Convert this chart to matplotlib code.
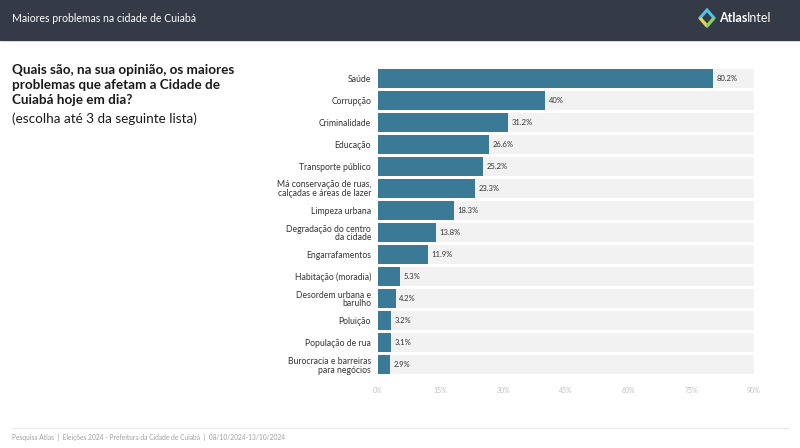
import matplotlib
matplotlib.use("Agg")
import matplotlib.pyplot as plt
from matplotlib.patches import Rectangle, Polygon
import numpy as np

plt.rcParams["font.family"] = ["Lato", "DejaVu Sans"]

# data
categories = ["Saúde", "Corrupção", "Criminalidade", "Educação", "Transporte público",
              "Má conservação de ruas,\ncalçadas e áreas de lazer", "Limpeza urbana",
              "Degradação do centro\nda cidade", "Engarrafamentos", "Habitação (moradia)",
              "Desordem urbana e\nbarulho", "Poluição", "População de rua",
              "Burocracia e barreiras\npara negócios"]
values = [80.2, 40, 31.2, 26.6, 25.2, 23.3, 18.3, 13.8, 11.9, 5.3, 4.2, 3.2, 3.1, 2.9]
value_labels = ["80.2%", "40%", "31.2%", "26.6%", "25.2%", "23.3%", "18.3%", "13.8%",
                "11.9%", "5.3%", "4.2%", "3.2%", "3.1%", "2.9%"]
xticks = [0, 15, 30, 45, 60, 75, 90]

bar_color = "#3b7a97"
strip_color = "#f2f2f2"
header_color = "#343a46"

fig = plt.figure(figsize=(8, 4.48), dpi=100)

# header band
fig.patches.append(Rectangle((0, 1 - 40 / 448), 1, 40 / 448, transform=fig.transFigure,
                             color=header_color, zorder=0))
fig.text(12 / 800, 1 - 18 / 448, "Maiores problemas na cidade de Cuiabá", color="white",
         fontsize=7.6, va="center", ha="left")
# little logo mark
cx, cy = 707 / 800, 1 - 18 / 448
dx, dy = 7 / 800, 8 / 448
fig.patches.append(Polygon([(cx, cy + dy), (cx + dx, cy), (cx, cy - dy), (cx - dx, cy)],
                           closed=True, transform=fig.transFigure, facecolor="none",
                           edgecolor="#4fc3e8", linewidth=2.2))
fig.patches.append(Polygon([(cx - dx, cy), (cx, cy - dy)], closed=False,
                           transform=fig.transFigure, fill=False,
                           edgecolor="#f2d33a", linewidth=2.2))
fig.patches.append(Polygon([(cx, cy - dy), (cx + dx, cy)], closed=False,
                           transform=fig.transFigure, fill=False,
                           edgecolor="#8fd14f", linewidth=2.2))
fig.text(719 / 800, cy, "Atlas", color="white", fontsize=9, fontweight="bold",
         va="center", ha="left")
fig.text(747 / 800, cy, "Intel", color="white", fontsize=9, va="center", ha="left")

# question
fig.text(12 / 800, 1 - 64 / 448, "Quais são, na sua opinião, os maiores\nproblemas que afetam a Cidade de\nCuiabá hoje em dia?",
         fontsize=9.7, fontweight="bold", color="#1a1a1a", va="top", ha="left",
         linespacing=1.3)
fig.text(12 / 800, 1 - 112 / 448, "(escolha até 3 da seguinte lista)", fontsize=9.7,
         color="#1a1a1a", va="top", ha="left")

ax = fig.add_axes([378 / 800, 1 - 376 / 448, 376 / 800, 309 / 448])
y = np.arange(len(categories))
ax.barh(y, [xticks[-1]] * len(categories), height=0.86, color=strip_color, zorder=1)
ax.barh(y, values, height=0.86, color=bar_color, zorder=2)
for yi, v, lab in zip(y, values, value_labels):
    ax.text(v + 0.8, yi, lab, va="center", ha="left", fontsize=5.5, color="#333333")

ax.set_xlim(0, 90)
ax.set_ylim(len(categories) - 0.5, -0.5)
ax.set_yticks(y)
ax.set_yticklabels(categories, fontsize=6.2, color="#333333", linespacing=0.95)
ax.set_xticks(xticks)
ax.set_xticklabels([f"{t}%" for t in xticks], fontsize=5, color="#c0c0c0")
ax.tick_params(axis="both", length=0)
ax.tick_params(axis="y", pad=5)
ax.tick_params(axis="x", pad=8)
for s in ax.spines.values():
    s.set_visible(False)

# footer
fig.lines.append(plt.Line2D([12 / 800, 788 / 800], [1 - 428 / 448, 1 - 428 / 448],
                            transform=fig.transFigure, color="#e6e6e6", linewidth=0.8))
fig.text(12 / 800, 1 - 437 / 448,
         "Pesquisa Atlas  |  Eleições 2024 - Prefeitura da Cidade de Cuiabá  |  08/10/2024-13/10/2024",
         fontsize=4.8, color="#a0a0a0", va="center", ha="left")

fig.savefig("out.png", dpi=100)
